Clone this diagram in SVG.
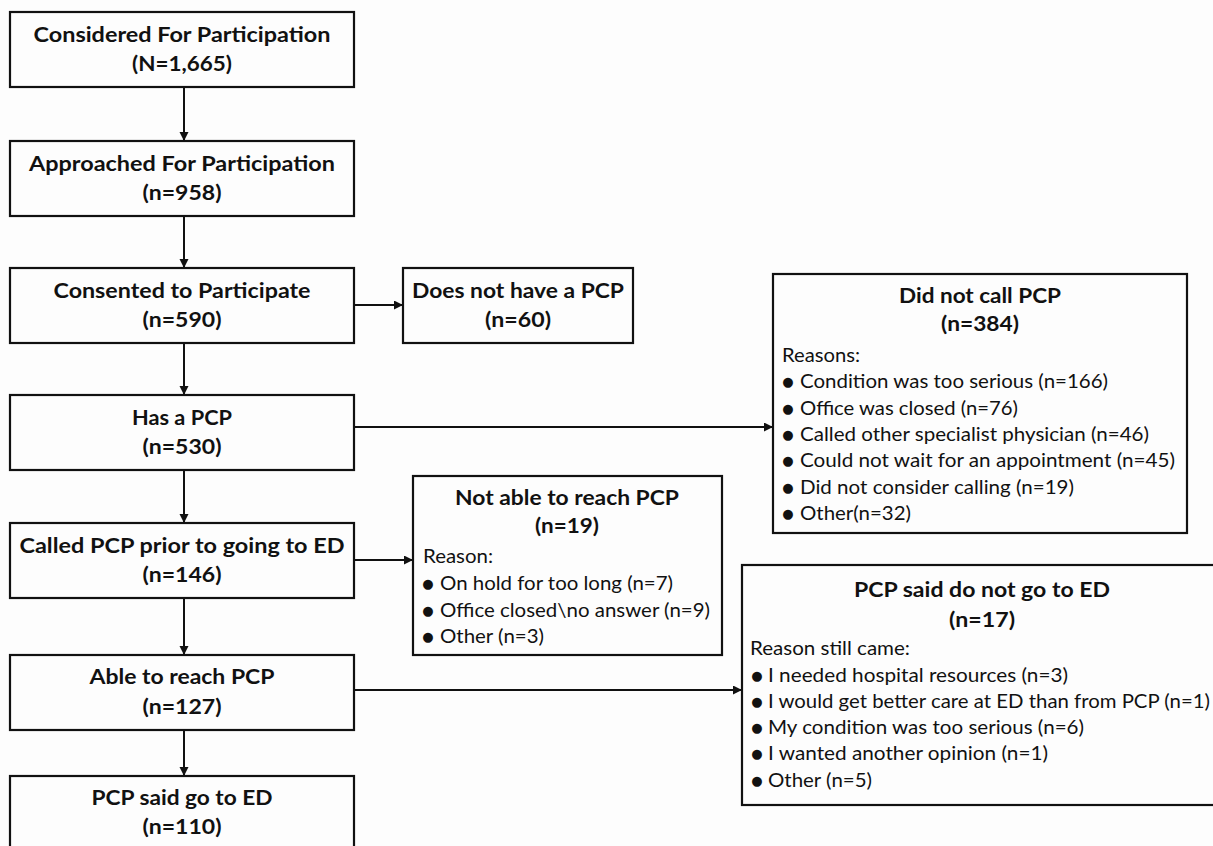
<svg xmlns="http://www.w3.org/2000/svg" width="1213" height="846" viewBox="0 0 1213 846">
<style>
.box{fill:none;stroke:#111;stroke-width:2.2}
.t{font-family:Lato,"Liberation Sans",sans-serif;font-weight:bold;font-size:21px;fill:#111;text-anchor:middle}
.r{font-family:Lato,"Liberation Sans",sans-serif;font-size:19px;fill:#111}
.bul{font-family:"DejaVu Sans",sans-serif;font-size:13px;fill:#111;text-anchor:middle}
.c{fill:none;stroke:#111;stroke-width:2}
</style>
<defs>
<marker id="ah" markerUnits="userSpaceOnUse" markerWidth="10" markerHeight="10" refX="9" refY="4.5" orient="auto">
<path d="M0,0 L9,4.5 L0,9 z" fill="#111"/>
</marker>
</defs>
<rect width="1213" height="846" fill="#fdfdfd"/>
<g id="connectors">
<line class="c" x1="184" y1="87" x2="184" y2="141" marker-end="url(#ah)"/>
<line class="c" x1="184" y1="216" x2="184" y2="268" marker-end="url(#ah)"/>
<line class="c" x1="184" y1="343" x2="184" y2="395" marker-end="url(#ah)"/>
<line class="c" x1="184" y1="470" x2="184" y2="523" marker-end="url(#ah)"/>
<line class="c" x1="184" y1="598" x2="184" y2="655" marker-end="url(#ah)"/>
<line class="c" x1="184" y1="730" x2="184" y2="776" marker-end="url(#ah)"/>
<line class="c" x1="354" y1="305" x2="403" y2="305" marker-end="url(#ah)"/>
<line class="c" x1="354" y1="427" x2="773" y2="427" marker-end="url(#ah)"/>
<line class="c" x1="354" y1="560" x2="413" y2="560" marker-end="url(#ah)"/>
<line class="c" x1="354" y1="690" x2="742" y2="690" marker-end="url(#ah)"/>
</g>
<g id="considered">
<rect class="box" x="10" y="12" width="344" height="75"/>
<text class="t" x="182" y="42" textLength="297" lengthAdjust="spacingAndGlyphs">Considered For Participation</text>
<text class="t" x="182" y="71" textLength="100" lengthAdjust="spacingAndGlyphs">(N=1,665)</text>
</g>
<g id="approached">
<rect class="box" x="10" y="141" width="344" height="75"/>
<text class="t" x="182" y="171" textLength="306" lengthAdjust="spacingAndGlyphs">Approached For Participation</text>
<text class="t" x="182" y="200" textLength="79" lengthAdjust="spacingAndGlyphs">(n=958)</text>
</g>
<g id="consented">
<rect class="box" x="10" y="268" width="344" height="75"/>
<text class="t" x="182" y="298" textLength="257" lengthAdjust="spacingAndGlyphs">Consented to Participate</text>
<text class="t" x="182" y="327" textLength="79" lengthAdjust="spacingAndGlyphs">(n=590)</text>
</g>
<g id="no-pcp">
<rect class="box" x="403" y="268" width="230" height="75"/>
<text class="t" x="518" y="298" textLength="212" lengthAdjust="spacingAndGlyphs">Does not have a PCP</text>
<text class="t" x="518" y="327" textLength="66" lengthAdjust="spacingAndGlyphs">(n=60)</text>
</g>
<g id="has-pcp">
<rect class="box" x="10" y="395" width="344" height="75"/>
<text class="t" x="182" y="425" textLength="100" lengthAdjust="spacingAndGlyphs">Has a PCP</text>
<text class="t" x="182" y="454" textLength="79" lengthAdjust="spacingAndGlyphs">(n=530)</text>
</g>
<g id="did-not-call">
<rect class="box" x="773" y="274" width="414" height="259"/>
<text class="t" x="980" y="303" textLength="162" lengthAdjust="spacingAndGlyphs">Did not call PCP</text>
<text class="t" x="980" y="331" textLength="78" lengthAdjust="spacingAndGlyphs">(n=384)</text>
<text class="r" x="782" y="362" textLength="78" lengthAdjust="spacingAndGlyphs">Reasons:</text>
<text class="bul" x="788" y="386">●</text>
<text class="r" x="800" y="388" textLength="308" lengthAdjust="spacingAndGlyphs">Condition was too serious (n=166)</text>
<text class="bul" x="788" y="413">●</text>
<text class="r" x="800" y="415" textLength="218" lengthAdjust="spacingAndGlyphs">Office was closed (n=76)</text>
<text class="bul" x="788" y="439">●</text>
<text class="r" x="800" y="441" textLength="349" lengthAdjust="spacingAndGlyphs">Called other specialist physician (n=46)</text>
<text class="bul" x="788" y="465">●</text>
<text class="r" x="800" y="467" textLength="375" lengthAdjust="spacingAndGlyphs">Could not wait for an appointment (n=45)</text>
<text class="bul" x="788" y="492">●</text>
<text class="r" x="800" y="494" textLength="274" lengthAdjust="spacingAndGlyphs">Did not consider calling (n=19)</text>
<text class="bul" x="788" y="518">●</text>
<text class="r" x="800" y="520" textLength="111" lengthAdjust="spacingAndGlyphs">Other(n=32)</text>
</g>
<g id="called-pcp">
<rect class="box" x="10" y="523" width="344" height="75"/>
<text class="t" x="182" y="553" textLength="325" lengthAdjust="spacingAndGlyphs">Called PCP prior to going to ED</text>
<text class="t" x="182" y="582" textLength="79" lengthAdjust="spacingAndGlyphs">(n=146)</text>
</g>
<g id="not-able">
<rect class="box" x="413" y="476" width="309" height="179"/>
<text class="t" x="567" y="505" textLength="224" lengthAdjust="spacingAndGlyphs">Not able to reach PCP</text>
<text class="t" x="567" y="533" textLength="64" lengthAdjust="spacingAndGlyphs">(n=19)</text>
<text class="r" x="423" y="563" textLength="70" lengthAdjust="spacingAndGlyphs">Reason:</text>
<text class="bul" x="428" y="588">●</text>
<text class="r" x="440" y="590" textLength="233" lengthAdjust="spacingAndGlyphs">On hold for too long (n=7)</text>
<text class="bul" x="428" y="615">●</text>
<text class="r" x="440" y="617" textLength="270" lengthAdjust="spacingAndGlyphs">Office closed\no answer (n=9)</text>
<text class="bul" x="428" y="641">●</text>
<text class="r" x="440" y="643" textLength="104" lengthAdjust="spacingAndGlyphs">Other (n=3)</text>
</g>
<g id="able">
<rect class="box" x="10" y="655" width="344" height="75"/>
<text class="t" x="182" y="684" textLength="185" lengthAdjust="spacingAndGlyphs">Able to reach PCP</text>
<text class="t" x="182" y="714" textLength="79" lengthAdjust="spacingAndGlyphs">(n=127)</text>
</g>
<g id="pcp-not-go">
<rect class="box" x="742" y="565" width="480" height="240"/>
<text class="t" x="982" y="597" textLength="256" lengthAdjust="spacingAndGlyphs">PCP said do not go to ED</text>
<text class="t" x="982" y="627" textLength="66" lengthAdjust="spacingAndGlyphs">(n=17)</text>
<text class="r" x="750" y="655" textLength="160" lengthAdjust="spacingAndGlyphs">Reason still came:</text>
<text class="bul" x="757" y="680">●</text>
<text class="r" x="768" y="682" textLength="300" lengthAdjust="spacingAndGlyphs">I needed hospital resources (n=3)</text>
<text class="bul" x="757" y="706">●</text>
<text class="r" x="768" y="708" textLength="442" lengthAdjust="spacingAndGlyphs">I would get better care at ED than from PCP (n=1)</text>
<text class="bul" x="757" y="732">●</text>
<text class="r" x="768" y="734" textLength="316" lengthAdjust="spacingAndGlyphs">My condition was too serious (n=6)</text>
<text class="bul" x="757" y="758">●</text>
<text class="r" x="768" y="760" textLength="280" lengthAdjust="spacingAndGlyphs">I wanted another opinion (n=1)</text>
<text class="bul" x="757" y="785">●</text>
<text class="r" x="768" y="787" textLength="104" lengthAdjust="spacingAndGlyphs">Other (n=5)</text>
</g>
<g id="pcp-go">
<rect class="box" x="10" y="776" width="344" height="80"/>
<text class="t" x="182" y="805" textLength="181" lengthAdjust="spacingAndGlyphs">PCP said go to ED</text>
<text class="t" x="182" y="834" textLength="79" lengthAdjust="spacingAndGlyphs">(n=110)</text>
</g>
</svg>
